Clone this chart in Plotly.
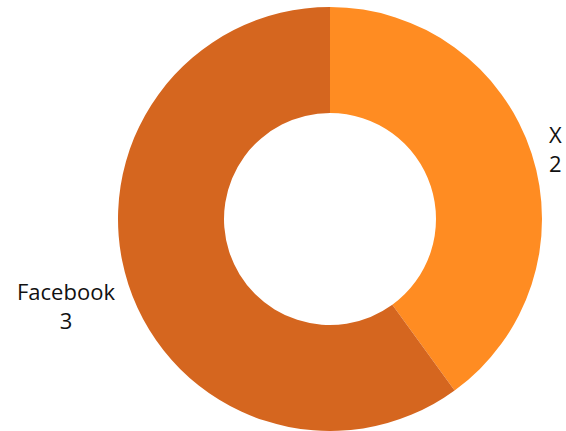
import plotly.graph_objects as go

labels = ["X", "Facebook"]
values = [2, 3]
colors = ["#FF8C22", "#D5661F"]

fig = go.Figure(go.Pie(
    labels=labels,
    values=values,
    hole=0.5,
    sort=False,
    direction="clockwise",
    rotation=0,
    marker=dict(colors=colors, line=dict(width=0)),
    textinfo="none",
    automargin=False,
    showlegend=False,
    hoverinfo="label+value",
))

# outside labels placed as annotations (paper coordinates of the plot area)
label_pos = {"X": (0.977, 0.667), "Facebook": (-0.060, 0.296)}
for lab, val in zip(labels, values):
    px, py = label_pos[lab]
    fig.add_annotation(
        x=px, y=py, xref="paper", yref="paper",
        text=f"{lab}<br>{val}", showarrow=False,
        xanchor="center", yanchor="middle", align="center",
        font=dict(family="Open Sans", size=22, color="#111111"),
    )

fig.update_layout(
    width=566, height=431,
    margin=dict(l=94, r=0, t=7, b=0, pad=0),
    paper_bgcolor="white",
    plot_bgcolor="white",
)
fig.write_html("out.html")
